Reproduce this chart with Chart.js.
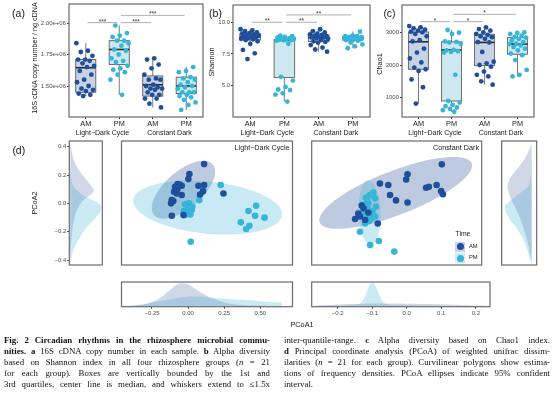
<!DOCTYPE html>
<html>
<head>
<meta charset="utf-8">
<script src="https://cdn.jsdelivr.net/npm/chart.js@4.4.1/dist/chart.umd.min.js"></script>
<style>
html,body{margin:0;padding:0;background:#fff;}
body{width:554px;height:396px;position:relative;overflow:hidden;font-family:"Liberation Sans",Arial,Helvetica,sans-serif;}
canvas{position:absolute;}
.t{position:absolute;white-space:nowrap;line-height:1;color:#1a1a1a;}
.cap{position:absolute;font-family:"Liberation Serif","Times New Roman",serif;font-size:8.8px;line-height:11px;height:11px;overflow:hidden;text-align:justify;text-align-last:justify;color:#111;}
.cap.last{text-align-last:left;}
.key{position:absolute;width:10px;height:10px;}
.dot{position:absolute;width:7px;height:7px;border-radius:50%;}
</style>
</head>
<body>
<script>
// ===================== DATA =====================
const categories = ['AM', 'PM', 'AM', 'PM'];
const conditions = ['Light−Dark Cycle', 'Constant Dark'];

// (a) 16S cDNA copy number per sample (21 per group)
const cdnaLD_AM = [1.84e6,1.78e6,1.77e6,1.74e6,1.71e6,1.71e6,1.70e6,1.68e6,1.66e6,1.65e6,1.62e6,1.59e6,1.55e6,1.53e6,1.50e6,1.48e6,1.47e6,1.46e6,1.44e6,1.43e6,1.42e6];
const cdnaLD_PM = [1.98e6,1.92e6,1.90e6,1.89e6,1.86e6,1.86e6,1.84e6,1.82e6,1.79e6,1.78e6,1.75e6,1.72e6,1.70e6,1.69e6,1.66e6,1.64e6,1.63e6,1.61e6,1.59e6,1.55e6,1.43e6];
const cdnaCD_AM = [1.72e6,1.71e6,1.67e6,1.64e6,1.59e6,1.56e6,1.55e6,1.55e6,1.51e6,1.50e6,1.49e6,1.48e6,1.48e6,1.47e6,1.45e6,1.43e6,1.43e6,1.40e6,1.40e6,1.36e6,1.33e6];
const cdnaCD_PM = [1.65e6,1.62e6,1.61e6,1.57e6,1.56e6,1.55e6,1.53e6,1.51e6,1.50e6,1.49e6,1.48e6,1.45e6,1.45e6,1.45e6,1.43e6,1.42e6,1.41e6,1.39e6,1.37e6,1.35e6,1.31e6];
const cdnaLow  = [1.42e6, 1.43e6, 1.33e6, 1.31e6];
const cdnaQ1   = [1.45e6, 1.67e6, 1.42e6, 1.44e6];
const cdnaMed  = [1.645e6,1.79e6, 1.51e6, 1.50e6];
const cdnaQ3   = [1.71e6, 1.86e6, 1.58e6, 1.57e6];
const cdnaHigh = [1.84e6, 1.98e6, 1.72e6, 1.65e6];
const cdnaTicks = [1.5e6, 1.75e6, 2.0e6];
const cdnaTickLabels = ['1.50e+06', '1.75e+06', '2.00e+06'];
const cdnaSigY = [2.003e6, 2.003e6, 2.061e6];
const cdnaSigText = ['***', '***', '***'];

// (b) Shannon
const shanLD_AM = [9.45,9.35,9.3,9.2,9.15,9.1,9.05,9.0,8.95,8.9,8.85,8.8,8.75,8.7,8.65,8.6,8.5,8.3,7.82,7.55,7.1];
const shanLD_PM = [8.95,8.9,8.85,8.8,8.75,8.7,8.68,8.65,8.62,8.6,8.58,8.55,8.3,5.7,5.4,4.9,4.7,4.65,4.4,4.3,3.75];
const shanCD_AM = [9.45,9.3,9.2,9.1,9.05,9.0,8.95,8.9,8.85,8.8,8.8,8.75,8.7,8.6,8.5,8.45,8.4,8.2,8.0,7.85,7.68];
const shanCD_PM = [9.26,8.95,8.9,8.9,8.85,8.82,8.8,8.78,8.75,8.74,8.72,8.7,8.68,8.65,8.62,8.6,8.55,8.4,8.25,8.1,7.95];
const shanLow  = [8.1, 3.75, 7.68, 7.95];
const shanQ1   = [8.6, 5.65, 8.47, 8.6];
const shanMed  = [8.85, 8.57, 8.79, 8.74];
const shanQ3   = [9.1, 8.62, 9.0, 8.87];
const shanHigh = [9.45, 8.95, 9.45, 9.26];
const shanTicks = [5.0, 7.5, 10.0];
const shanTickLabels = ['5.0', '7.5', '10.0'];
const shanSigY = [10.0, 10.0, 10.58];
const shanSigText = ['**', '**', '**'];

// (c) Chao1
const chaoLD_AM = [3190,3150,3120,3080,3050,3020,3000,2950,2880,2760,2720,2500,2380,2200,2080,1920,1870,1820,1560,1320,820];
const chaoLD_PM = [3070,2990,2950,2720,2710,2690,2650,2460,2450,2420,2400,2380,1700,900,850,780,740,700,660,620,570];
const chaoCD_AM = [3150,3100,3050,3000,2950,2920,2880,2850,2800,2700,2690,2400,2100,2050,2000,1950,1800,1700,1650,1500,1400];
const chaoCD_PM = [3000,2980,2950,2900,2860,2840,2800,2750,2700,2650,2640,2600,2550,2500,2450,2350,2300,2150,1850,1700,1650];
const chaoLow  = [820, 570, 1400, 1650];
const chaoQ1   = [1870, 900, 1980, 2330];
const chaoMed  = [2710, 2460, 2690, 2640];
const chaoQ3   = [3010, 2710, 2940, 2840];
const chaoHigh = [3190, 3070, 3150, 3000];
const chaoTicks = [1000, 2000, 3000];
const chaoTickLabels = ['1000', '2000', '3000'];
const chaoSigY = [3325, 3325, 3550];
const chaoSigText = ['*', '*', '*'];

const sigPairs = [[1, 2], [2, 3], [2, 4]];

// (d) PCoA, Light-Dark Cycle
const ldAM_x = [0.111,0.009,0.002,-0.072,-0.044,0.072,0.111,-0.097,-0.044,-0.113,0.083,0.245,-0.113,-0.032,-0.074,-0.102,-0.058,-0.118,-0.078,0.104,-0.090];
const ldAM_y = [0.277,0.207,0.171,0.136,0.124,0.124,0.129,0.082,0.059,0.023,0.063,0.070,-0.087,-0.083,0.099,0.016,0.133,0.000,0.070,0.087,0.117];
const ldPM_x = [0.226,0.102,0.078,-0.021,0.002,0.025,-0.009,0.016,-0.021,0.418,0.471,0.464,0.529,0.365,0.425,0.402,0.018,0.030,-0.004,-0.030,0.007];
const ldPM_y = [0.129,0.082,0.023,-0.007,-0.024,-0.047,-0.064,-0.078,-0.083,-0.054,-0.017,-0.087,-0.101,-0.134,-0.158,-0.181,-0.271,-0.024,-0.047,-0.054,0.000];
// 95% ellipses: [centerX, centerY, axis1X, axis1Y, axis2X, axis2Y]
const ldEllipseAM = [-0.032, 0.096, 0.203, 0.179, -0.0834, 0.098];
const ldEllipsePM = [0.136, -0.030, 0.515, -0.053, 0.018, 0.183];

// (d) PCoA, Constant Dark
const cdAM_x = [0.108,0.010,0.006,-0.069,-0.045,-0.040,-0.023,0.010,0.063,0.071,0.093,0.106,0.111,-0.121,-0.131,-0.140,-0.075,-0.111,-0.126,-0.102,-0.116];
const cdAM_y = [0.114,0.085,0.070,0.058,0.054,0.025,0.009,0.003,0.046,0.049,0.054,0.036,0.027,-0.006,-0.029,-0.045,-0.058,-0.048,-0.038,-0.026,-0.014];
const cdPM_x = [-0.088,-0.109,-0.083,-0.102,-0.080,-0.116,-0.097,-0.092,-0.111,-0.126,-0.097,-0.072,-0.028,-0.105,-0.090,-0.109,-0.083,-0.100,-0.098,-0.105,-0.118];
const cdPM_y = [0.032,0.017,0.015,0.000,-0.009,-0.024,-0.031,-0.043,-0.058,-0.082,-0.121,-0.109,-0.140,-0.014,-0.022,-0.038,-0.038,-0.051,0.025,0.007,-0.004];
const cdEllipseAM = [-0.024, 0.031, 0.217, 0.086, -0.0229, 0.0596];
const cdEllipsePM = [-0.0985, -0.0265, -0.0035, 0.0945, 0.0314, 0.001];

// marginal densities (relative height)
const ldPC1Grid = [-0.45,-0.40,-0.35,-0.30,-0.25,-0.20,-0.15,-0.10,-0.05,0.00,0.05,0.10,0.15,0.20,0.25,0.30,0.35,0.40,0.45,0.50,0.55,0.60,0.65];
const ldPC1DensAM = [0.0,0.005,0.02,0.07,0.17,0.32,0.55,0.82,0.97,0.92,0.72,0.53,0.37,0.25,0.15,0.09,0.05,0.03,0.02,0.01,0.005,0.0,0.0];
const ldPC1DensPM = [0.01,0.02,0.04,0.08,0.14,0.2,0.26,0.32,0.36,0.39,0.4,0.39,0.36,0.33,0.31,0.29,0.27,0.26,0.23,0.2,0.18,0.16,0.15];
const ldPC2Grid = [-0.42,-0.36,-0.30,-0.24,-0.18,-0.12,-0.06,-0.03,0.00,0.03,0.06,0.09,0.12,0.18,0.24,0.30,0.36,0.42];
const ldPC2DensAM = [0.0,0.01,0.025,0.045,0.07,0.11,0.19,0.25,0.32,0.45,0.63,0.74,0.67,0.45,0.25,0.12,0.05,0.01];
const ldPC2DensPM = [0.02,0.06,0.16,0.3,0.47,0.72,0.93,0.98,0.88,0.62,0.38,0.22,0.1,0.03,0.0,0.0,0.0,0.0];
const cdPC1Grid = [-0.26,-0.22,-0.18,-0.16,-0.14,-0.13,-0.12,-0.11,-0.10,-0.09,-0.08,-0.07,-0.06,-0.04,0.00,0.04,0.08,0.12,0.16,0.20,0.23];
const cdPC1DensAM = [0.02,0.04,0.07,0.08,0.09,0.1,0.1,0.11,0.11,0.11,0.11,0.11,0.11,0.11,0.1,0.09,0.08,0.06,0.04,0.02,0.01];
const cdPC1DensPM = [0.005,0.01,0.02,0.04,0.07,0.18,0.43,0.82,1.0,0.84,0.48,0.2,0.08,0.04,0.02,0.015,0.01,0.005,0.0,0.0,0.0];
const cdPC2Grid = [-0.17,-0.16,-0.13,-0.10,-0.07,-0.04,-0.01,0.02,0.05,0.08,0.11,0.14,0.17];
const cdPC2DensAM = [0.01,0.03,0.1,0.19,0.31,0.44,0.62,0.8,0.9,0.75,0.44,0.19,0.02];
const cdPC2DensPM = [0.02,0.07,0.18,0.34,0.58,0.86,1.0,0.6,0.13,0.04,0.01,0.0,0.0];

const pc1TicksLD = [-0.25, 0, 0.25, 0.5];
const pc1TickLabelsLD = ['−0.25', '0.00', '0.25', '0.50'];
const pc1TicksCD = [-0.2, -0.1, 0, 0.1, 0.2];
const pc1TickLabelsCD = ['−0.2', '−0.1', '0.0', '0.1', '0.2'];
const pc2TicksLD = [-0.4, -0.2, 0, 0.2, 0.4];
const pc2TickLabelsLD = ['−0.4', '−0.2', '0.0', '0.2', '0.4'];

// ===================== STYLE =====================
const AMc = '#1f4f9b', PMc = '#35b5d8';
const boxFillAM = '#c9d3e6', boxFillPM = '#cde8f0';
const ellFillAM = 'rgba(40,80,150,0.30)', ellFillPM = 'rgba(60,180,215,0.28)';
const densAM = 'rgba(60,90,160,0.24)', densPM = 'rgba(60,180,215,0.27)';
Chart.defaults.font.family = '"Liberation Sans", Arial, sans-serif';

// ===================== HELPERS =====================
function mk(area, yW, xH, cfg) {
  const [l, t, r, b] = area, P = 10;
  const cl = Math.floor(l - yW - P), ct = Math.floor(t - P);
  const cr = Math.ceil(r + P), cb = Math.ceil(b + xH + P);
  const cv = document.createElement('canvas');
  cv.width = cr - cl; cv.height = cb - ct;
  cv.style.left = cl + 'px'; cv.style.top = ct + 'px';
  cv.style.width = (cr - cl) + 'px'; cv.style.height = (cb - ct) + 'px';
  document.body.appendChild(cv);
  const o = cfg.options;
  o.responsive = false; o.animation = false; o.devicePixelRatio = 1;
  o.layout = {padding: {left: (l - yW) - cl, top: t - ct, right: cr - r, bottom: cb - b - xH}};
  o.plugins = Object.assign({legend: {display: false}, tooltip: {enabled: false}}, o.plugins || {});
  if (o.scales.y.display !== false) o.scales.y.afterFit = s => { s.width = yW; };
  if (o.scales.x.display !== false) o.scales.x.afterFit = s => { s.height = xH; };
  return new Chart(cv, cfg);
}
const frame = {id: 'frame', afterDraw(c) {
  const a = c.chartArea, x = c.ctx; x.save();
  x.strokeStyle = '#6a6a6a'; x.lineWidth = 1.2;
  x.strokeRect(a.left, a.top, a.right - a.left, a.bottom - a.top); x.restore();
}};
function fixedTicks(vals, labels, size, color) {
  return {
    afterBuildTicks: s => { s.ticks = vals.map(v => ({value: v})); },
    ticks: {autoSkip: false, maxRotation: 0, minRotation: 0, padding: 1, font: {size: size}, color: color,
            callback: (v, i) => labels[i]},
    grid: {display: true, drawOnChartArea: false, drawTicks: true, tickLength: 2, tickColor: '#333', color: 'rgba(0,0,0,0)'},
    border: {display: false}
  };
}
const jit = (i, g) => (((i * 0.6180339 + g * 0.29) % 1) - 0.5) * 0.56;

function txt(html, x, y, o = {}) {
  const d = document.createElement('div');
  d.className = 't'; d.innerHTML = html;
  d.style.fontSize = (o.size || 7.3) + 'px';
  if (o.color) d.style.color = o.color;
  if (o.family) d.style.fontFamily = o.family;
  d.style.left = x + 'px'; d.style.top = y + 'px';
  const ax = o.align === 'r' ? '-100%' : o.align === 'l' ? '0' : '-50%';
  d.style.transform = `translate(${ax},-50%)` + (o.rot ? ` rotate(${o.rot}deg)` : '');
  document.body.appendChild(d);
}

function boxChart(area, yW, series, lo, q1, med, q3, hi, yMin, yMax, yTicks, yLabels, sigY, sigText) {
  const datasets = series.map((vals, g) => ({
    data: vals.map((v, i) => ({x: g + 1 + jit(i, g), y: v})),
    backgroundColor: categories[g] === 'AM' ? AMc : PMc, borderWidth: 0, pointRadius: 2.4
  }));
  const boxes = {id: 'boxes', beforeDatasetsDraw(c) {
    const X = c.scales.x, Y = c.scales.y, ctx = c.ctx; ctx.save();
    for (let g = 0; g < 4; g++) {
      const xc = X.getPixelForValue(g + 1), xl = X.getPixelForValue(g + 0.7), xr = X.getPixelForValue(g + 1.3);
      const py = v => Y.getPixelForValue(v);
      ctx.strokeStyle = '#7a7a7a'; ctx.lineWidth = 1;
      ctx.beginPath(); ctx.moveTo(xc, py(hi[g])); ctx.lineTo(xc, py(q3[g]));
      ctx.moveTo(xc, py(q1[g])); ctx.lineTo(xc, py(lo[g])); ctx.stroke();
      ctx.fillStyle = categories[g] === 'AM' ? boxFillAM : boxFillPM;
      ctx.fillRect(xl, py(q3[g]), xr - xl, py(q1[g]) - py(q3[g]));
      ctx.strokeStyle = '#5e5e5e'; ctx.lineWidth = 0.9;
      ctx.strokeRect(xl, py(q3[g]), xr - xl, py(q1[g]) - py(q3[g]));
      ctx.strokeStyle = '#2b2b2b'; ctx.lineWidth = 1.6;
      ctx.beginPath(); ctx.moveTo(xl, py(med[g])); ctx.lineTo(xr, py(med[g])); ctx.stroke();
    }
    ctx.restore();
  }};
  const sig = {id: 'sig', afterDatasetsDraw(c) {
    const X = c.scales.x, Y = c.scales.y, ctx = c.ctx; ctx.save();
    sigPairs.forEach((p, k) => {
      const x1 = X.getPixelForValue(p[0] + 0.05), x2 = X.getPixelForValue(p[1] - 0.05), y = Y.getPixelForValue(sigY[k]);
      ctx.strokeStyle = '#9a9a9a'; ctx.lineWidth = 0.8;
      ctx.beginPath(); ctx.moveTo(x1, y); ctx.lineTo(x2, y); ctx.stroke();
      ctx.fillStyle = '#333'; ctx.font = '6.5px "Liberation Sans", Arial'; ctx.textAlign = 'center'; ctx.textBaseline = 'middle';
      ctx.fillText(sigText[k], (x1 + x2) / 2, y - 0.8);
    });
    ctx.restore();
  }};
  const xs = fixedTicks([1, 2, 3, 4], categories, 7.3, '#1a1a1a');
  const ys = fixedTicks(yTicks, yLabels, 6, '#4d4d4d');
  return mk(area, yW, 17, {
    type: 'scatter', data: {datasets},
    options: {scales: {
      x: Object.assign({type: 'linear', min: 0.5, max: 4.5}, xs),
      y: Object.assign({type: 'linear', min: yMin, max: yMax}, ys)
    }},
    plugins: [boxes, sig, frame]
  });
}

function ellipsePlugin(ells, fills) {
  return {id: 'ell', beforeDatasetsDraw(c) {
    const X = c.scales.x, Y = c.scales.y, ctx = c.ctx, a = c.chartArea; ctx.save();
    ctx.beginPath(); ctx.rect(a.left, a.top, a.right - a.left, a.bottom - a.top); ctx.clip();
    ells.forEach((e, k) => {
      ctx.beginPath();
      for (let i = 0; i <= 120; i++) {
        const t = i / 120 * 2 * Math.PI;
        const px = X.getPixelForValue(e[0] + e[2] * Math.cos(t) + e[4] * Math.sin(t));
        const py = Y.getPixelForValue(e[1] + e[3] * Math.cos(t) + e[5] * Math.sin(t));
        if (i) ctx.lineTo(px, py); else ctx.moveTo(px, py);
      }
      ctx.closePath(); ctx.fillStyle = fills[k]; ctx.fill();
    });
    ctx.restore();
  }};
}
function scatterChart(area, ax, ay, px, py, ells, xr, yr) {
  const pts = (xa, ya) => xa.map((x, i) => ({x: x, y: ya[i]}));
  return mk(area, 0, 0, {
    type: 'scatter',
    data: {datasets: [
      {data: pts(ax, ay), backgroundColor: AMc, borderWidth: 0, pointRadius: 3.3},
      {data: pts(px, py), backgroundColor: PMc, borderWidth: 0, pointRadius: 3.3}
    ]},
    options: {scales: {
      x: {type: 'linear', display: false, min: xr[0], max: xr[1]},
      y: {type: 'linear', display: false, min: yr[0], max: yr[1]}
    }},
    plugins: [ellipsePlugin(ells, [ellFillAM, ellFillPM]), frame]
  });
}
function densChart(area, yW, xH, vertical, grid, dAM, dPM, coordRange, densRange, reverse, ticks, labels) {
  const pts = d => grid.map((g, i) => vertical ? {x: d[i], y: g} : {x: g, y: d[i]});
  const ds = d => ({data: pts(d), fill: 'origin', borderWidth: 0, pointRadius: 0, cubicInterpolationMode: 'monotone'});
  const a = ds(dAM); a.backgroundColor = densAM; a.borderColor = 'rgba(0,0,0,0)';
  const p = ds(dPM); p.backgroundColor = densPM; p.borderColor = 'rgba(0,0,0,0)';
  const coordAxis = ticks ? Object.assign({type: 'linear', min: coordRange[0], max: coordRange[1]}, fixedTicks(ticks, labels, 6, '#4d4d4d'))
                          : {type: 'linear', display: false, min: coordRange[0], max: coordRange[1]};
  const densAxis = {type: 'linear', display: false, min: densRange[0], max: densRange[1], reverse: !!reverse};
  return mk(area, yW, xH, {
    type: 'line',
    data: {datasets: [a, p]},
    options: {indexAxis: vertical ? 'y' : 'x', scales: vertical ? {x: densAxis, y: coordAxis} : {x: coordAxis, y: densAxis}},
    plugins: [frame]
  });
}

// ===================== CHARTS =====================
boxChart([69, 4, 203, 117], 69, [cdnaLD_AM, cdnaLD_PM, cdnaCD_AM, cdnaCD_PM],
  cdnaLow, cdnaQ1, cdnaMed, cdnaQ3, cdnaHigh, 1.254e6, 2.151e6, cdnaTicks, cdnaTickLabels, cdnaSigY, cdnaSigText);
boxChart([233, 5, 370, 117], 28, [shanLD_AM, shanLD_PM, shanCD_AM, shanCD_PM],
  shanLow, shanQ1, shanMed, shanQ3, shanHigh, 2.53, 11.36, shanTicks, shanTickLabels, shanSigY, shanSigText);
boxChart([402, 5, 534, 117], 29, [chaoLD_AM, chaoLD_PM, chaoCD_AM, chaoCD_PM],
  chaoLow, chaoQ1, chaoMed, chaoQ3, chaoHigh, 410, 3835, chaoTicks, chaoTickLabels, chaoSigY, chaoSigText);

scatterChart([121.5, 141, 292.5, 265], ldAM_x, ldAM_y, ldPM_x, ldPM_y, [ldEllipseAM, ldEllipsePM], [-0.461, 0.723], [-0.435, 0.440]);
scatterChart([311.7, 141, 481.7, 265], cdAM_x, cdAM_y, cdPM_x, cdPM_y, [cdEllipseAM, cdEllipsePM], [-0.264, 0.222], [-0.179, 0.182]);

densChart([69.3, 141, 102.3, 265], 30, 0, true, ldPC2Grid, ldPC2DensAM, ldPC2DensPM, [-0.435, 0.440], [-0.03, 1.0], false, pc2TicksLD, pc2TickLabelsLD);
densChart([501.7, 141, 536.7, 265], 0, 0, true, cdPC2Grid, cdPC2DensAM, cdPC2DensPM, [-0.179, 0.182], [-0.187, 1.113], true, null, null);
densChart([121.5, 282, 292.5, 306.7], 0, 14, false, ldPC1Grid, ldPC1DensAM, ldPC1DensPM, [-0.461, 0.723], [-0.03, 1.02], false, pc1TicksLD, pc1TickLabelsLD);
densChart([311.7, 282, 490, 306.7], 0, 14, false, cdPC1Grid, cdPC1DensAM, cdPC1DensPM, [-0.275, 0.241], [-0.03, 1.02], false, pc1TicksCD, pc1TickLabelsCD);

// ===================== TEXT =====================
txt('(a)', 18.5, 13.3, {size: 10.5});
txt('(b)', 215.5, 13.3, {size: 10.5});
txt('(c)', 389.5, 13.3, {size: 10.5});
txt('(d)', 18.8, 150, {size: 10.5});
txt('16S cDNA copy number / ng cDNA', 34.5, 58, {size: 7.2, rot: -90});
txt('Shannon', 211.5, 62, {size: 7.3, rot: -90});
txt('Chao1', 380, 64, {size: 7.3, rot: -90});
txt(conditions[0], 102.5, 131.7, {size: 7});
txt(conditions[1], 169.5, 131.7, {size: 7});
txt(conditions[0], 267.3, 131.7, {size: 7});
txt(conditions[1], 335.8, 131.7, {size: 7});
txt(conditions[0], 435, 131.7, {size: 7});
txt(conditions[1], 501, 131.7, {size: 7});
txt('PCoA2', 35, 203, {size: 7.3, rot: -90});
txt('PCoA1', 302, 325, {size: 7.3});
txt(conditions[0], 289.5, 147.5, {size: 7.2, align: 'r'});
txt(conditions[1], 479, 147.5, {size: 7.2, align: 'r'});

// legend
txt('Time', 455.5, 234.3, {size: 6.8, align: 'l'});
[['AM', AMc, 'rgba(40,80,150,0.25)', 246.7], ['PM', PMc, 'rgba(60,180,215,0.25)', 258.3]].forEach(k => {
  const s = document.createElement('div'); s.className = 'key';
  s.style.left = '455px'; s.style.top = (k[3] - 5) + 'px'; s.style.background = k[2];
  document.body.appendChild(s);
  const d = document.createElement('div'); d.className = 'dot';
  d.style.left = '456.5px'; d.style.top = (k[3] - 3.5) + 'px'; d.style.background = k[1];
  document.body.appendChild(d);
  txt(k[0], 469, k[3], {size: 5.8, align: 'l'});
});

// caption
const capLeft = [
  '<b>Fig. 2 Circadian rhythms in the rhizosphere microbial commu-</b>',
  '<b>nities.</b> <b>a</b> 16S cDNA copy number in each sample. <b>b</b> Alpha diversity',
  'based on Shannon index in all four rhizosphere groups (<i>n</i> = 21',
  'for each group). Boxes are vertically bounded by the 1st and',
  '3rd quartiles, center line is median, and whiskers extend to ≤1.5x'
];
const capRight = [
  'inter-quantile-range. <b>c</b> Alpha diversity based on Chao1 index.',
  '<b>d</b> Principal coordinate analysis (PCoA) of weighted unifrac dissim-',
  'ilarities (<i>n</i> = 21 for each group). Curvilinear polygons show estima-',
  'tions of frequency densities. PCoA ellipses indicate 95% confident',
  'interval.'
];
function capCol(lines, left, width) {
  lines.forEach((h, i) => {
    const d = document.createElement('div');
    d.className = 'cap' + (i === lines.length - 1 && lines === capRight ? ' last' : '');
    d.innerHTML = h; d.style.left = left + 'px'; d.style.width = width + 'px';
    d.style.top = (334.5 + i * 11) + 'px';
    document.body.appendChild(d);
  });
}
capCol(capLeft, 4, 266);
capCol(capRight, 284, 266);
</script>
</body>
</html>
